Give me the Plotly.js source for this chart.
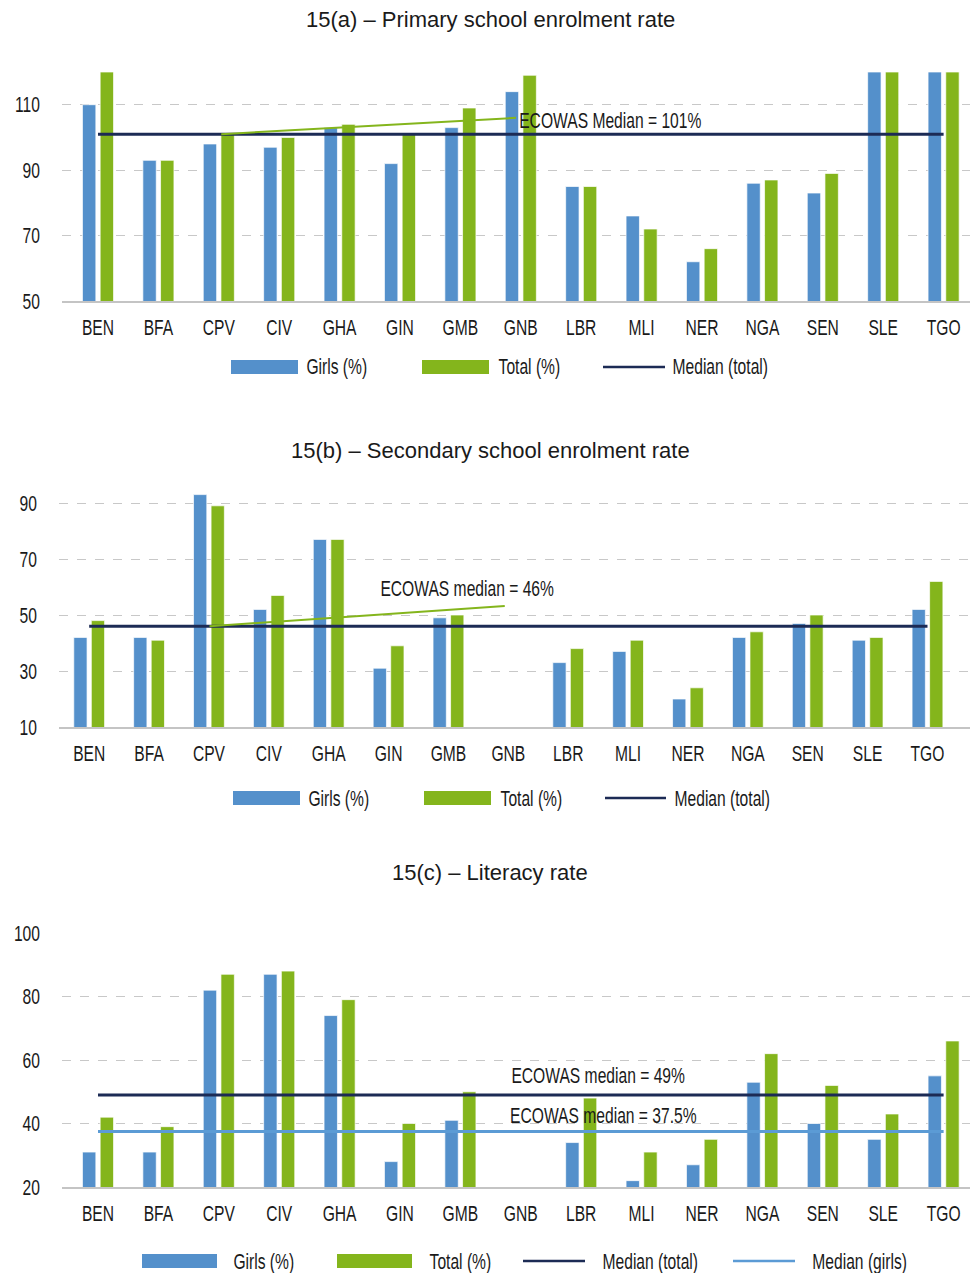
<!DOCTYPE html>
<html>
<head>
<meta charset="utf-8">
<script src="https://cdn.plot.ly/plotly-3.0.1.min.js"></script>
<style>html,body{margin:0;padding:0;background:#fff;}#chart{width:970px;height:1273px;}</style>
</head>
<body>
<div id="chart"></div>
<script>
// ---- data ----
const countries = ["BEN","BFA","CPV","CIV","GHA","GIN","GMB","GNB","LBR","MLI","NER","NGA","SEN","SLE","TGO"];

const primaryGirls = [110, 93, 98, 97, 103, 92, 103, 114, 85, 76, 62, 86, 83, 120, 120];
const primaryTotal = [120, 93, 101, 100, 104, 101, 109, 119, 85, 72, 66, 87, 89, 120, 120];
const primaryMedianTotal = 101;

const secondaryGirls = [42, 42, 93, 52, 77, 31, 49, null, 33, 37, 20, 42, 47, 41, 52];
const secondaryTotal = [48, 41, 89, 57, 77, 39, 50, null, 38, 41, 24, 44, 50, 42, 62];
const secondaryMedianTotal = 46;

const literacyGirls = [31, 31, 82, 87, 74, 28, 41, null, 34, 22, 27, 53, 40, 35, 55];
const literacyTotal = [42, 39, 87, 88, 79, 40, 50, null, 48, 31, 35, 62, 52, 43, 66];
const literacyMedianTotal = 49;
const literacyMedianGirls = 37.5;

const titles = ["15(a) – Primary school enrolment rate",
                "15(b) – Secondary school enrolment rate",
                "15(c) – Literacy rate"];
const medianLabels = ["ECOWAS Median = 101%", "ECOWAS median = 46%",
                      "ECOWAS median = 49%", "ECOWAS median = 37.5%"];
const legendLabels = ["Girls (%)", "Total (%)", "Median (total)", "Median (girls)"];

// ---- style ----
const FONT = "'Liberation Sans', Arial, sans-serif";
const NARROW = 0.71;   // horizontal condensing of labels (reference uses a condensed face)
const BLUE = "#5490CB";
const GREEN = "#84B51C";
const NAVY = "#1C2B55";
const LIGHTBLUE = "#5B9BD5";
const TXT = "#1a1a1a";
const H = 1273, W = 970;
const py = p => 1 - p / H;
const px = p => p / W;

function bar(x, y, color, xa, ya) {
  return {type: "bar", x: x, y: y, xaxis: xa, yaxis: ya, showlegend: false,
          marker: {color: color, line: {color: "rgba(255,255,255,0.7)", width: 1}},
          hoverinfo: "x+y"};
}
function medLine(x, v, color, xa, ya) {
  return {type: "scatter", mode: "lines", x: x, y: x.map(() => v), xaxis: xa, yaxis: ya,
          showlegend: false, line: {color: color, width: 3}, hoverinfo: "y"};
}

const data = [
  bar(countries, primaryGirls, BLUE, "x", "y"),
  bar(countries, primaryTotal, GREEN, "x", "y"),
  medLine(countries, primaryMedianTotal, NAVY, "x", "y"),
  bar(countries, secondaryGirls, BLUE, "x2", "y2"),
  bar(countries, secondaryTotal, GREEN, "x2", "y2"),
  medLine(countries, secondaryMedianTotal, NAVY, "x2", "y2"),
  bar(countries, literacyGirls, BLUE, "x3", "y3"),
  bar(countries, literacyTotal, GREEN, "x3", "y3"),
  medLine(countries, literacyMedianTotal, NAVY, "x3", "y3"),
  medLine(countries, literacyMedianGirls, LIGHTBLUE, "x3", "y3")
];

function xax(domain, range, anchor) {
  return {domain: domain, range: range, anchor: anchor, type: "category",
          showline: true, linecolor: "#c4c4c4", linewidth: 2, showgrid: false,
          ticks: "", ticklabelstandoff: 6, fixedrange: true,
          tickfont: {family: FONT, size: 22, color: TXT}};
}
function yax(domain, range, tickvals, anchor) {
  return {domain: domain, range: range, anchor: anchor, tickvals: tickvals,
          showgrid: true, gridcolor: "#c8c8c8", griddash: "dash", gridwidth: 1,
          zeroline: false, showline: false, ticks: "", ticklabelstandoff: 21, fixedrange: true,
          tickfont: {family: FONT, size: 22, color: TXT}};
}

const annotations = [];
const shapes = [];
// titles
[[titles[0], 20], [titles[1], 450], [titles[2], 872]].forEach(([t, y]) => {
  annotations.push({text: t, xref: "paper", yref: "paper", x: px(490), y: py(y),
    xanchor: "center", yanchor: "middle", showarrow: false,
    font: {family: FONT, size: 22, color: TXT}});
});
function label(text, xref, yref, x, y) {
  annotations.push({text: text, xref: xref, yref: yref, x: x, y: y,
    xanchor: "center", yanchor: "middle", showarrow: false,
    font: {family: FONT, size: 22, color: TXT}});
}
// median labels (centre positions, category-index units)
label(medianLabels[0], "x", "y", 8.48, 105.2);
label(medianLabels[1], "x2", "y2", 6.31, 59.3);
label(medianLabels[2], "x3", "y3", 8.28, 55.2);
label(medianLabels[3], "x3", "y3", 8.37, 42.5);
// leader lines
shapes.push({type: "line", xref: "x", yref: "y", x0: 2.04, y0: primaryMedianTotal, x1: 6.92, y1: 106,
  line: {color: GREEN, width: 2}});
shapes.push({type: "line", xref: "x2", yref: "y2", x0: 2.01, y0: secondaryMedianTotal, x1: 6.94, y1: 53.2,
  line: {color: GREEN, width: 2}});

// custom legends
function legendBox(x0, x1, yc, color, text, tc) {
  shapes.push({type: "rect", xref: "paper", yref: "paper", x0: px(x0), x1: px(x1),
    y0: py(yc + 7), y1: py(yc - 7), fillcolor: color, line: {width: 0}});
  label(text, "paper", "paper", px(tc), py(yc));
}
function legendLine(x0, x1, yc, color, text, tc) {
  shapes.push({type: "line", xref: "paper", yref: "paper", x0: px(x0), x1: px(x1),
    y0: py(yc), y1: py(yc), line: {color: color, width: 2.5}});
  label(text, "paper", "paper", px(tc), py(yc));
}
legendBox(231, 298, 367, BLUE, legendLabels[0], 336.5);
legendBox(422, 489, 367, GREEN, legendLabels[1], 529);
legendLine(603, 665, 367, NAVY, legendLabels[2], 720.5);

legendBox(233, 300, 798, BLUE, legendLabels[0], 338.5);
legendBox(424, 491, 798, GREEN, legendLabels[1], 531);
legendLine(605, 666, 798, NAVY, legendLabels[2], 722.5);

legendBox(142, 217, 1261, BLUE, legendLabels[0], 263.5);
legendBox(337, 412, 1261, GREEN, legendLabels[1], 460);
legendLine(523, 585, 1261, NAVY, legendLabels[2], 650.5);
legendLine(733, 795, 1261, LIGHTBLUE, legendLabels[3], 859);

const layout = {
  width: W, height: H,
  margin: {l: 0, r: 0, t: 0, b: 0},
  paper_bgcolor: "#fff", plot_bgcolor: "#fff",
  showlegend: false,
  barmode: "group", bargap: 0.414, bargroupgap: 0.243,
  font: {family: FONT, size: 22, color: TXT},
  xaxis: xax([px(62), 1], [-0.596, 14.437], "y"),
  yaxis: yax([py(301), py(72)], [50, 120], [50, 70, 90, 110], "x"),
  xaxis2: xax([px(59), 1], [-0.504, 14.71], "y2"),
  yaxis2: yax([py(727), py(475)], [10, 100], [10, 30, 50, 70, 90], "x2"),
  xaxis3: xax([px(62), 1], [-0.596, 14.437], "y3"),
  yaxis3: yax([py(1187), py(933)], [20, 100], [20, 40, 60, 80, 100], "x3"),
  annotations: annotations,
  shapes: shapes
};

Plotly.newPlot("chart", data, layout, {displayModeBar: false, staticPlot: true}).then(gd => {
  // condense label text horizontally (keeps real text, anchors preserved)
  const nodes = gd.querySelectorAll("g.xaxislayer-above text, g.yaxislayer-above text, g.annotation text.annotation-text");
  nodes.forEach(el => {
    const ann = el.closest("g.annotation");
    if (ann && +ann.getAttribute("data-index") < 3) return; // titles keep natural width
    const len = el.getComputedTextLength();
    el.setAttribute("textLength", (len * NARROW).toFixed(1));
    el.setAttribute("lengthAdjust", "spacingAndGlyphs");
  });
});
</script>
</body>
</html>
